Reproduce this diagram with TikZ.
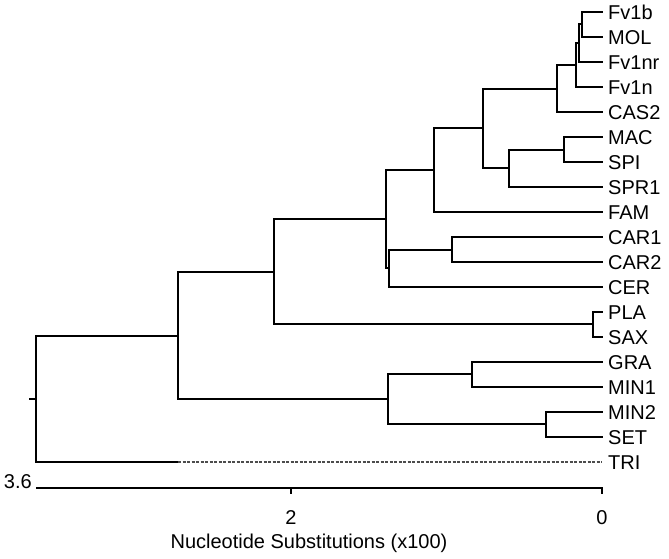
\documentclass[tikz,border=0pt]{standalone}
\usepackage{fontspec}
\setmainfont{Liberation Sans}
\begin{document}
\begin{tikzpicture}[x=1pt,y=-1pt,
  br/.style={line width=2pt,line join=miter,line cap=rect},
  lbl/.style={anchor=base west,inner sep=0pt,font=\fontsize{20}{22}\selectfont},
  axl/.style={inner sep=0pt,font=\fontsize{20}{22}\selectfont},
  dsh/.style={line width=1.6pt,black!70,dash pattern=on 3pt off 1.5pt}]
\useasboundingbox (0,0) rectangle (669,558);
% leaves
\foreach \n/\y in {Fv1b/12,MOL/37,Fv1nr/62,Fv1n/87,CAS2/112,MAC/137,SPI/162,SPR1/187,FAM/212,CAR1/237,CAR2/262,CER/287,PLA/312,SAX/337,GRA/362,MIN1/387,MIN2/412,SET/437,TRI/462}{
  \coordinate (l\n) at (602,\y);
  \node[lbl] (t\n) at (608,\y+7.2) {\n};
}
% internal nodes
\coordinate (K) at (582,24);
\coordinate (J) at (579,43);
\coordinate (I) at (576,65);
\coordinate (H) at (557,89);
\coordinate (M) at (564,150);
\coordinate (L) at (509,168);
\coordinate (E) at (483,128);
\coordinate (D) at (434,170);
\coordinate (G) at (452,250);
\coordinate (F) at (389,268);
\coordinate (C) at (386,219);
\coordinate (N) at (593,324);
\coordinate (B) at (274,272);
\coordinate (P) at (472,374);
\coordinate (Q) at (546,424);
\coordinate (O) at (388,399);
\coordinate (A) at (178,336);
\coordinate (R) at (36,399);
\coordinate (Rstub) at (29,399);
\coordinate (TRImid) at (178,462);
% branches
\draw[br] (lFv1b) -| (K) |- (lMOL);
\draw[br] (K) -| (J) |- (lFv1nr);
\draw[br] (J) -| (I) |- (lFv1n);
\draw[br] (I) -| (H) |- (lCAS2);
\draw[br] (lMAC) -| (M) |- (lSPI);
\draw[br] (M) -| (L) |- (lSPR1);
\draw[br] (H) -| (E) |- (L);
\draw[br] (E) -| (D) |- (lFAM);
\draw[br] (lCAR1) -| (G) |- (lCAR2);
\draw[br] (G) -| (F) |- (lCER);
\draw[br] (D) -| (C) |- (F);
\draw[br] (lPLA) -| (N) |- (lSAX);
\draw[br] (C) -| (B) |- (N);
\draw[br] (lGRA) -| (P) |- (lMIN1);
\draw[br] (lMIN2) -| (Q) |- (lSET);
\draw[br] (P) -| (O) |- (Q);
\draw[br] (B) -| (A) |- (O);
\draw[br] (A) -| (R) |- (TRImid);
\draw[dsh] (TRImid) -- (lTRI);
\draw[line width=2pt] (R) -- (Rstub);
% axis
\coordinate (axL) at (36,488);
\coordinate (axR) at (602,488);
\coordinate (ax2) at (291,488);
\coordinate (ax2b) at (291,494);
\coordinate (axRb) at (602,494);
\draw[line width=2pt] (axL) -- (axR) -- (axRb);
\draw[line width=2pt] (ax2) -- (ax2b);
\node[axl,anchor=base east] (l36) at (32,488) {3.6};
\node[axl,anchor=base] (l2) at (291,524) {2};
\node[axl,anchor=base] (l0) at (602,524) {0};
\node[axl,anchor=base] (xl) at (309,548) {Nucleotide Substitutions (x100)};
\end{tikzpicture}
\end{document}
